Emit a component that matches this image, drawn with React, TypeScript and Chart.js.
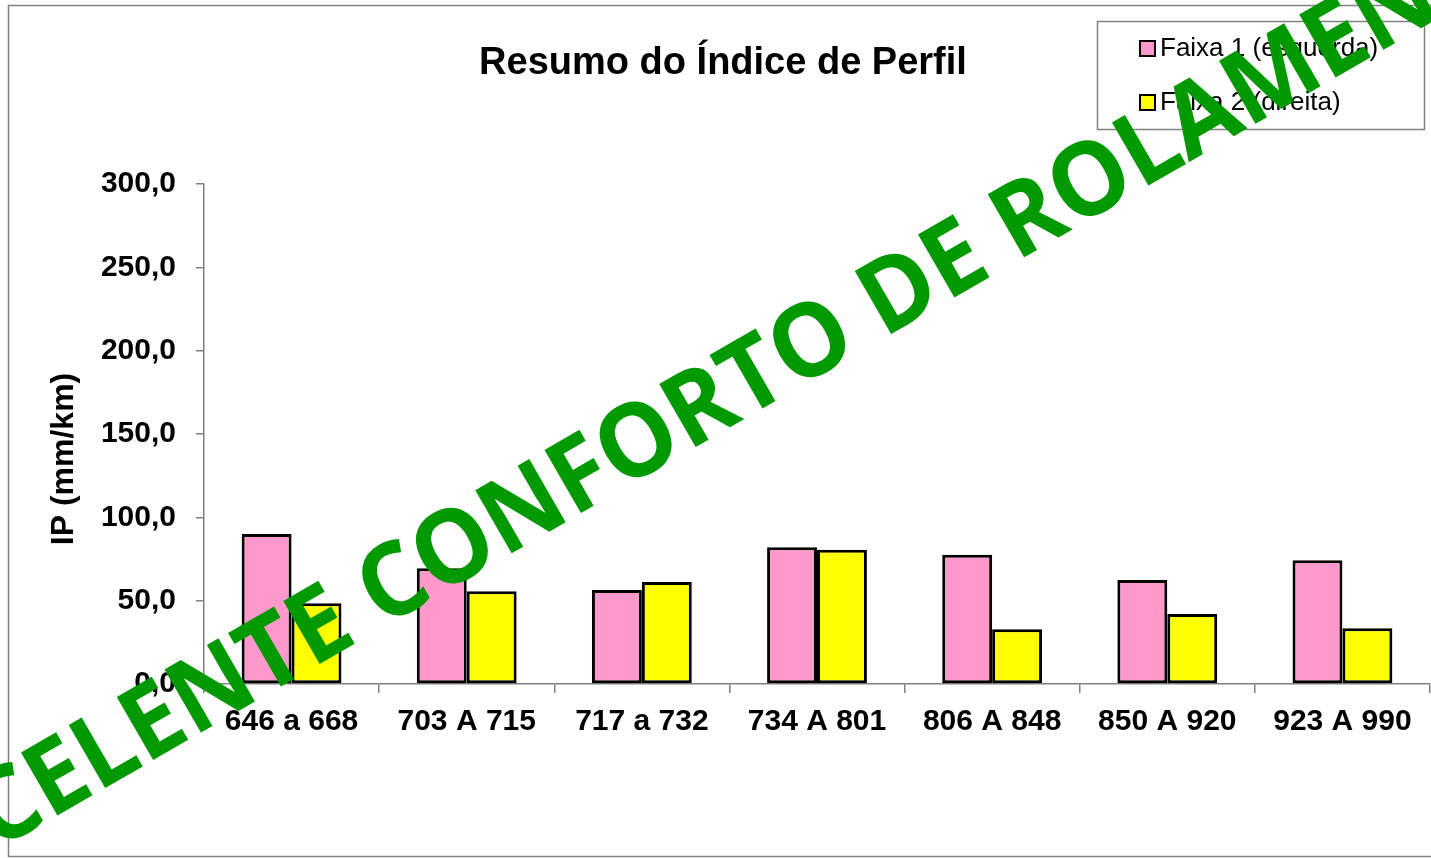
import { useEffect, useRef } from 'react';
import { Chart, registerables } from 'chart.js';

Chart.register(...registerables);

const categories = ['646 a 668', '703 A 715', '717 a 732', '734 A 801', '806 A 848', '850 A 920', '923 A 990'];
const faixa1 = [90.0, 69.4, 56.4, 82.0, 77.6, 62.4, 74.2];
const faixa2 = [48.5, 55.6, 61.2, 80.6, 32.8, 42.0, 33.4];
const seriesLabels = ['Faixa 1 (esquerda)', 'Faixa 2 (direita)'];
const seriesColors = ['#FF99CC', '#FFFF00'];
const yMin = 0;
const yMax = 300;
const yStep = 50;
const chartTitle = 'Resumo do Índice de Perfil';
const yTitle = 'IP (mm/km)';
const watermark = 'EXCELENTE CONFORTO DE ROLAMENTO';

const FONT = '"Liberation Sans", Arial, sans-serif';

const decorPlugin = {
  id: 'decor',
  beforeDraw(chart: any) {
    const { ctx, width, height } = chart;
    ctx.save();
    ctx.fillStyle = '#ffffff';
    ctx.fillRect(0, 0, width, height);
    ctx.restore();
  },
  afterDraw(chart: any) {
    const { ctx } = chart;
    ctx.save();
    // outer frame
    ctx.strokeStyle = '#808080';
    ctx.lineWidth = 1.5;
    ctx.strokeRect(8.5, 5.5, 1440, 851);

    // title
    ctx.fillStyle = '#000000';
    ctx.font = `bold 38px ${FONT}`;
    ctx.textAlign = 'center';
    ctx.textBaseline = 'alphabetic';
    ctx.fillText(chartTitle, 723, 74);

    // y axis title
    ctx.save();
    ctx.translate(64, 459);
    ctx.rotate(-Math.PI / 2);
    ctx.font = `bold 32px ${FONT}`;
    ctx.textAlign = 'center';
    ctx.textBaseline = 'middle';
    ctx.fillText(yTitle, 0, 0);
    ctx.restore();

    // legend
    ctx.fillStyle = '#ffffff';
    ctx.fillRect(1097, 21, 327, 108);
    ctx.strokeStyle = '#808080';
    ctx.lineWidth = 1.5;
    ctx.strokeRect(1097.5, 21.5, 327, 108);
    const rows = [48, 102];
    chart.data.datasets.forEach((ds: any, i: number) => {
      const cy = rows[i];
      ctx.fillStyle = ds.backgroundColor;
      ctx.fillRect(1140, cy - 7, 15, 15);
      ctx.strokeStyle = '#000000';
      ctx.lineWidth = 2;
      ctx.strokeRect(1140, cy - 7, 15, 15);
      ctx.fillStyle = '#000000';
      ctx.font = `26px ${FONT}`;
      ctx.textAlign = 'left';
      ctx.textBaseline = 'middle';
      ctx.fillText(ds.label, 1160, cy + 1);
    });

    // watermark
    ctx.save();
    ctx.translate(712, 404);
    ctx.rotate(-30 * Math.PI / 180);
    ctx.scale(0.965, 1);
    ctx.fillStyle = '#009900';
    ctx.font = `bold 102px "Open Sans", sans-serif`;
    ctx.textAlign = 'center';
    ctx.textBaseline = 'middle';
    ctx.fillText(watermark, 0, 0);
    ctx.restore();

    ctx.restore();
  },
};

export default function App() {
  const ref = useRef<HTMLCanvasElement | null>(null);
  useEffect(() => {
    document.body.style.margin = '0';
    const canvas = ref.current;
    if (!canvas) return;
    const chart = new Chart(canvas, {
      type: 'bar',
      data: {
        labels: categories,
        datasets: [
          {
            label: seriesLabels[0],
            data: faixa1,
            backgroundColor: seriesColors[0],
            borderColor: '#000000',
            borderWidth: 3,
            borderSkipped: false,
            categoryPercentage: 0.57,
            barPercentage: 1,
          },
          {
            label: seriesLabels[1],
            data: faixa2,
            backgroundColor: seriesColors[1],
            borderColor: '#000000',
            borderWidth: 3,
            borderSkipped: false,
            categoryPercentage: 0.57,
            barPercentage: 1,
          },
        ],
      },
      options: {
        animation: false,
        responsive: false,
        devicePixelRatio: 1,
        layout: { padding: { top: 184, right: 1, bottom: 0, left: 0 } },
        plugins: {
          legend: { display: false },
          title: { display: false },
          tooltip: { enabled: false },
        },
        scales: {
          x: {
            grid: {
              drawOnChartArea: false,
              drawTicks: true,
              tickLength: 9,
              color: '#808080',
              lineWidth: 1.5,
            },
            border: { display: true, color: '#808080', width: 1.5 },
            ticks: {
              color: '#000000',
              font: { family: FONT, size: 30, weight: 'bold' },
              padding: 11,
              maxRotation: 0,
              autoSkip: false,
            },
            afterFit(scale: any) {
              scale.height = 174;
            },
          },
          y: {
            min: yMin,
            max: yMax,
            grid: {
              drawOnChartArea: false,
              drawTicks: true,
              tickLength: 8,
              color: '#808080',
              lineWidth: 1.5,
            },
            border: { display: true, color: '#808080', width: 1.5 },
            ticks: {
              stepSize: yStep,
              color: '#000000',
              font: { family: FONT, size: 30, weight: 'bold' },
              padding: 20,
              callback: (v: any) => Number(v).toFixed(1).replace('.', ','),
            },
            afterFit(scale: any) {
              scale.width = 204;
            },
          },
        },
      },
      plugins: [decorPlugin],
    });
    return () => chart.destroy();
  }, []);
  return (
    <canvas
      ref={ref}
      width={1431}
      height={858}
      style={{ display: 'block', width: 1431, height: 858 }}
    />
  );
}
